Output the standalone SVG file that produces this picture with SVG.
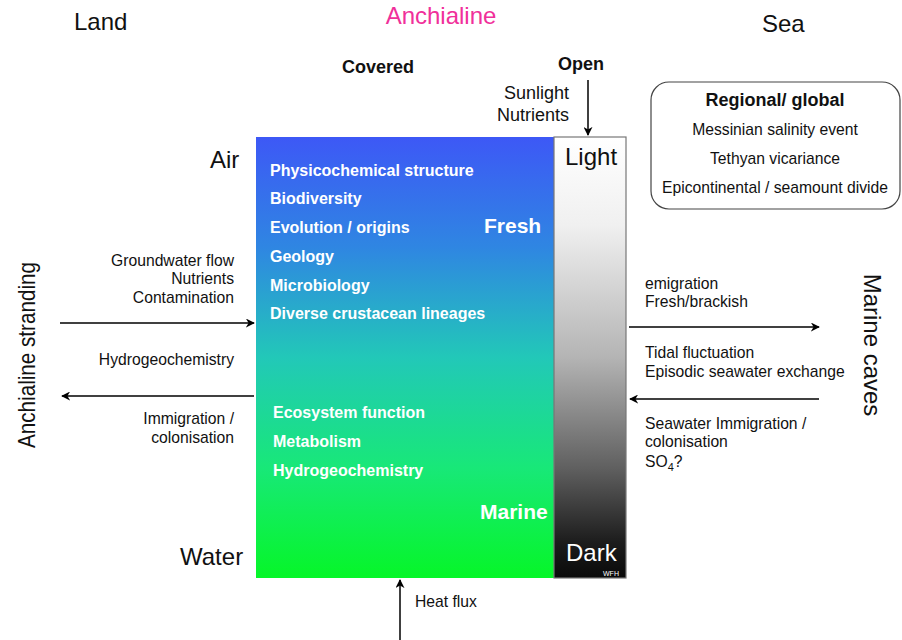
<svg xmlns="http://www.w3.org/2000/svg" width="902" height="640" viewBox="0 0 902 640">
<defs>
<linearGradient id="water" x1="0" y1="0" x2="0" y2="1">
<stop offset="0" stop-color="#3d58f6"/>
<stop offset="0.25" stop-color="#2f86e2"/>
<stop offset="0.5" stop-color="#22c8b8"/>
<stop offset="0.75" stop-color="#18e878"/>
<stop offset="1" stop-color="#06f628"/>
</linearGradient>
<linearGradient id="light" x1="0" y1="0" x2="0" y2="1">
<stop offset="0" stop-color="#ffffff"/>
<stop offset="0.2" stop-color="#f0f0f0"/>
<stop offset="0.5" stop-color="#b4b4b4"/>
<stop offset="0.75" stop-color="#606060"/>
<stop offset="0.92" stop-color="#1c1c1c"/>
<stop offset="1" stop-color="#0a0a0a"/>
</linearGradient>
<marker id="ah" viewBox="0 0 10 10" refX="9" refY="5" markerWidth="9" markerHeight="9" markerUnits="userSpaceOnUse" orient="auto">
<path d="M0,0 L10,5 L0,10 L3,5 Z" fill="#000"/>
</marker>
<style>
text{font-family:"Liberation Sans",Arial,sans-serif;fill:#111}
.big{font-size:24px}
.hd{font-size:18px;font-weight:bold}
.sub{font-size:18px}
.lbl{font-size:15.7px}
.in{font-size:16px;font-weight:bold;fill:#fff}
.inb{font-size:21px;font-weight:bold;fill:#fff}
.r{text-anchor:end}
.c{text-anchor:middle}
.arr{stroke:#000;stroke-width:1.5;fill:none;marker-end:url(#ah)}
</style>
</defs>
<rect width="902" height="640" fill="#fff"/>

<g id="header">
<text class="big" x="74" y="30">Land</text>
<text class="big c" x="441" y="24" style="fill:#f0309a">Anchialine</text>
<text class="big" x="762" y="32">Sea</text>
<text class="hd c" x="378" y="73">Covered</text>
<text class="hd c" x="581" y="70">Open</text>
<text class="sub r" x="569" y="99">Sunlight</text>
<text class="sub r" x="569" y="121">Nutrients</text>
</g>

<g id="habitat">
<rect x="256" y="137" width="298" height="441" fill="url(#water)"/>
<rect x="554" y="137" width="72" height="441" fill="url(#light)" stroke="#777" stroke-width="1.2"/>
<text class="big" x="210" y="168">Air</text>
<text class="big" x="180" y="565">Water</text>
<text class="big" x="565" y="165">Light</text>
<text class="big" x="566" y="561" style="fill:#fff">Dark</text>
<text x="603" y="576" style="font-size:7px;fill:#fff">WFH</text>
<text class="in" x="270" y="176">Physicochemical structure</text>
<text class="in" x="270" y="204">Biodiversity</text>
<text class="in" x="270" y="233">Evolution / origins</text>
<text class="in" x="270" y="262">Geology</text>
<text class="in" x="270" y="291">Microbiology</text>
<text class="in" x="270" y="319">Diverse crustacean lineages</text>
<text class="inb" x="484" y="233">Fresh</text>
<text class="in" x="273" y="418">Ecosystem function</text>
<text class="in" x="273" y="447">Metabolism</text>
<text class="in" x="273" y="476">Hydrogeochemistry</text>
<text class="inb" x="480" y="519">Marine</text>
</g>

<g id="land">
<text class="big c" transform="translate(35,355) rotate(-90)" textLength="186" lengthAdjust="spacingAndGlyphs">Anchialine stranding</text>
<text class="lbl r" x="234" y="266">Groundwater flow</text>
<text class="lbl r" x="234" y="284">Nutrients</text>
<text class="lbl r" x="234" y="303">Contamination</text>
<text class="lbl r" x="234" y="365">Hydrogeochemistry</text>
<text class="lbl r" x="234" y="424">Immigration /</text>
<text class="lbl r" x="234" y="443">colonisation</text>
</g>

<g id="sea">
<text class="big c" transform="translate(864,345) rotate(90)">Marine caves</text>
<text class="lbl" x="645" y="289">emigration</text>
<text class="lbl" x="645" y="307">Fresh/brackish</text>
<text class="lbl" x="645" y="358">Tidal fluctuation</text>
<text class="lbl" x="645" y="377">Episodic seawater exchange</text>
<text class="lbl" x="645" y="429">Seawater Immigration /</text>
<text class="lbl" x="645" y="447">colonisation</text>
<text class="lbl" x="645" y="467">SO<tspan dy="4" style="font-size:11px">4</tspan><tspan dy="-4">?</tspan></text>
</g>

<g id="regional">
<rect x="651" y="82" width="249" height="127" rx="18" fill="#fff" stroke="#444" stroke-width="1.2"/>
<text class="hd c" x="775" y="106">Regional/ global</text>
<text class="lbl c" x="775" y="135">Messinian salinity event</text>
<text class="lbl c" x="775" y="164">Tethyan vicariance</text>
<text class="lbl c" x="775" y="193">Epicontinental / seamount divide</text>
</g>

<g id="heat">
<text class="lbl" x="415" y="607">Heat flux</text>
</g>

<g id="connectors">
<line class="arr" x1="60" y1="323" x2="254" y2="323"/>
<line class="arr" x1="254" y1="396" x2="62" y2="396"/>
<line class="arr" x1="629" y1="327" x2="819" y2="327"/>
<line class="arr" x1="819" y1="399" x2="630" y2="399"/>
<line class="arr" x1="588" y1="80" x2="588" y2="135"/>
<line class="arr" x1="400" y1="640" x2="400" y2="580"/>
</g>
</svg>
